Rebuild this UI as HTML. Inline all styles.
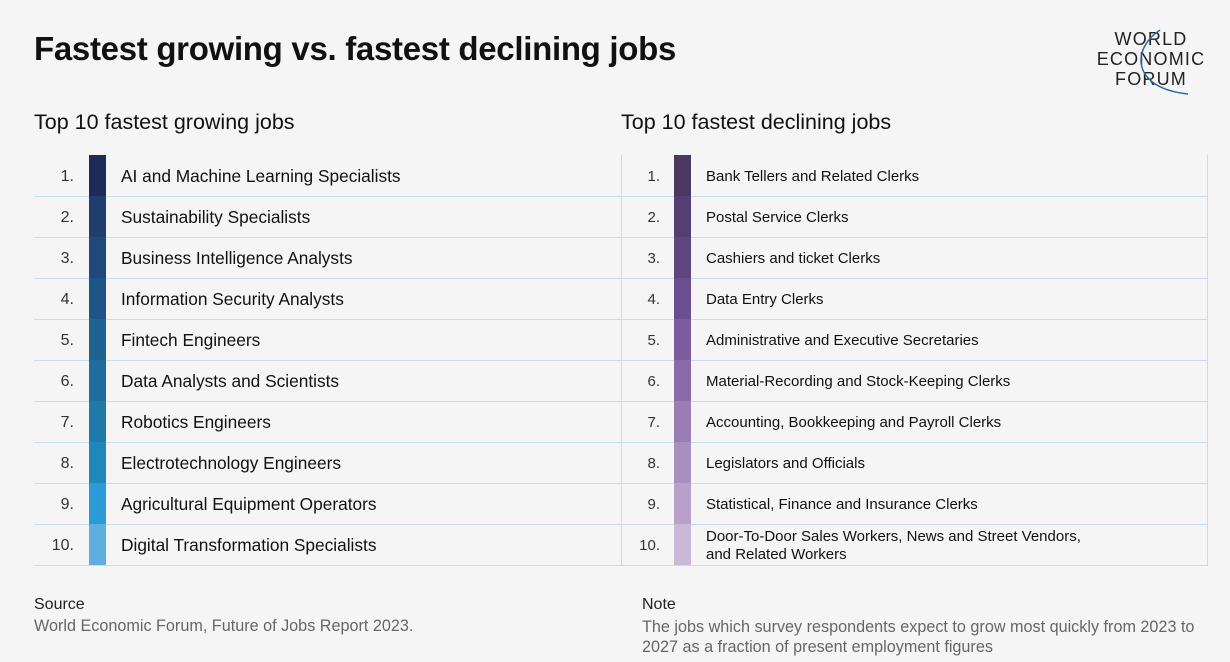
<!DOCTYPE html>
<html><head><meta charset="utf-8"><style>
body{margin:0;width:1230px;height:662px;background:#f5f5f5;font-family:"Liberation Sans",sans-serif;color:#111;position:relative;overflow:hidden}
.a{position:absolute;white-space:nowrap}
.h{font-size:33px;font-weight:bold;left:34px;top:30px;letter-spacing:-0.3px}
.sub{font-size:21.5px;top:110px}
.line{position:absolute;height:1px;background:#c9dcea}
.num{position:absolute;font-size:16px;color:#333;text-align:right;width:40px}
.bar{position:absolute;width:17px;height:41px}
.lt{position:absolute;font-size:17.3px;color:#111}
.rt{position:absolute;font-size:15px;color:#111;line-height:18px}
.ft{font-size:16px;color:#222}
.fg{font-size:16.2px;color:#666}
</style></head><body>
<div class="a h">Fastest growing vs. fastest declining jobs</div>
<div class="a sub" style="left:34px">Top 10 fastest growing jobs</div>
<div class="a sub" style="left:621px">Top 10 fastest declining jobs</div>
<div class="a" style="left:1088px;top:29px;width:126px;text-align:center;font-size:18px;line-height:20px;letter-spacing:1.2px;color:#222">WORLD<br>ECONOMIC<br>FORUM</div>
<svg class="a" style="left:1130px;top:28px" width="80" height="70"><path d="M30 2 C 2 20, 0 60, 58 66" fill="none" stroke="#2a6aa8" stroke-width="1.5"/></svg>
<div id="t"></div>
<div style="position:absolute;left:621px;top:155px;width:1px;height:410px;background:#c9dcea"></div>
<div style="position:absolute;left:1207px;top:155px;width:1px;height:410px;background:#c9dcea"></div>
<div class="a ft" style="left:34px;top:596px">Source</div>
<div class="a fg" style="left:34px;top:617px">World Economic Forum, Future of Jobs Report 2023.</div>
<div class="a ft" style="left:642px;top:596px">Note</div>
<div class="a fg" style="left:642px;top:617px;line-height:20px">The jobs which survey respondents expect to grow most quickly from 2023 to<br>2027 as a fraction of present employment figures</div>
<script>
var L=["AI and Machine Learning Specialists","Sustainability Specialists","Business Intelligence Analysts","Information Security Analysts","Fintech Engineers","Data Analysts and Scientists","Robotics Engineers","Electrotechnology Engineers","Agricultural Equipment Operators","Digital Transformation Specialists"];
var R=["Bank Tellers and Related Clerks","Postal Service Clerks","Cashiers and ticket Clerks","Data Entry Clerks","Administrative and Executive Secretaries","Material-Recording and Stock-Keeping Clerks","Accounting, Bookkeeping and Payroll Clerks","Legislators and Officials","Statistical, Finance and Insurance Clerks","Door-To-Door Sales Workers, News and Street Vendors,<br>and Related Workers"];
var LC=["#1d2b58","#1f3d6e","#20497b","#1f5586","#1f6190","#1f6d9c","#1f7aa9","#1f88bb","#2a9bd6","#5eaedf"];
var RC=["#4a3862","#553f72","#5f467f","#6b4e8d","#7b5b9c","#8a6ba9","#9a7db5","#a98ec0","#b8a0ca","#cbb7d8"];
var h="";
for(var i=0;i<10;i++){var y=155+i*41;
h+='<div class="line" style="left:34px;top:'+(y+41)+'px;width:587px"></div>';
h+='<div class="line" style="left:621px;top:'+(y+41)+'px;width:587px"></div>';
h+='<div class="num" style="left:34px;top:'+(y+13)+'px">'+(i+1)+'.</div>';
h+='<div class="num" style="left:620px;top:'+(y+13)+'px;font-size:15px">'+(i+1)+'.</div>';
h+='<div class="bar" style="left:89px;top:'+y+'px;background:'+LC[i]+'"></div>';
h+='<div class="bar" style="left:674px;top:'+y+'px;background:'+RC[i]+'"></div>';
h+='<div class="lt" style="left:121px;top:'+(y+11)+'px">'+L[i]+'</div>';
h+='<div class="rt" style="left:706px;top:'+(i==9?y+4:y+13)+'px">'+R[i]+'</div>';}
document.getElementById("t").innerHTML=h;
</script>
</body></html>
